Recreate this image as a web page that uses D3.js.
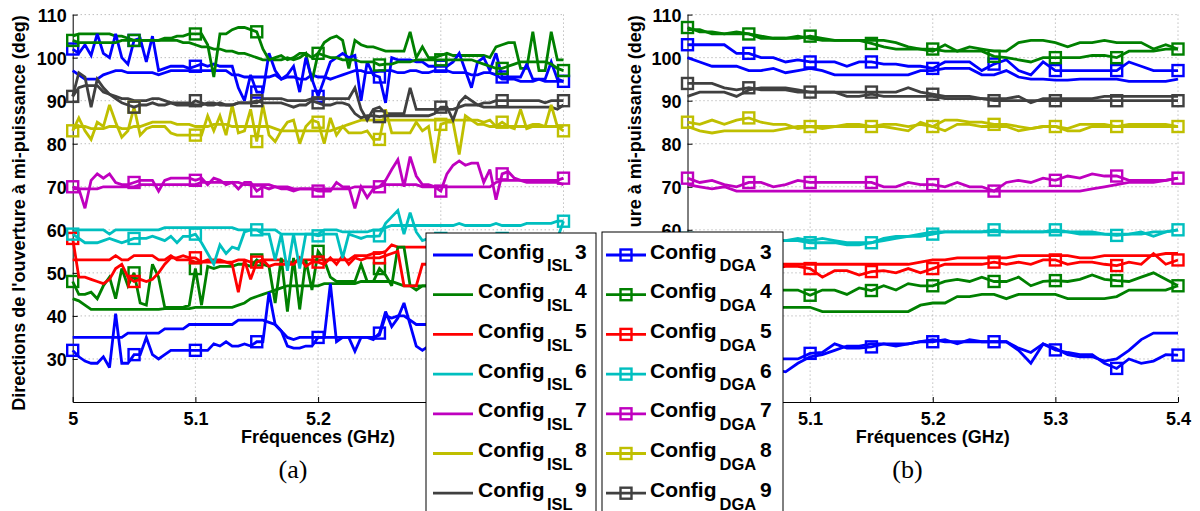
<!DOCTYPE html>
<html><head><meta charset="utf-8">
<script src="https://cdn.jsdelivr.net/npm/d3@7"></script>
<style>html,body{margin:0;padding:0;background:#fff;} svg{display:block;}</style>
</head><body>
<svg id="chart" width="1200" height="511"></svg>
<script>
// ---------- categories / ticks ----------
const CONFIG_IDS = ["3","4","5","6","7","8","9"];
const CONFIG_COLORS = ["#0000ff","#008000","#ff0000","#00bfbf","#bf00bf","#bfbf00","#404040"];
const Y_TICKS = [30,40,50,60,70,80,90,100,110];
const X_TICKS = [5,5.1,5.2,5.3,5.4];
const X_TICK_LABELS = ["5","5.1","5.2","5.3","5.4"];
const Y_LABEL = "Directions de l'ouverture à mi-puissance (deg)";
const Y_LABEL_B_VISIBLE = "ure à mi-puissance (deg)";   // the rest is hidden behind the legend
const X_LABEL = "Fréquences (GHz)";
const F_START = 5.0;
const STEP_A = 0.005;   // GHz between samples, panel (a)
const STEP_B = 0.01;    // GHz between samples, panel (b)
const MARK_EVERY_A = 10, MARK_EVERY_B = 5;

// ---------- panel (a) series (81 samples, 5.000 .. 5.400 GHz) ----------
const A_ISL3_HI = [97,96,95,95,95,96,96.5,97,97,96.5, 96.5,96.5,96.5,96.5,96,96.5,97,97,97,97, 97,97,97,97,97,97,96,96,95.5,95.5, 95.5,95.5,95.5,96,95,95.5,95.5,95,95,96, 95.5,95.5,95,95.5,96,96.5,97,97,96.5,96.5, 97,97,97,96.5,96.5,97,97,96.5,96.5,97, 97,97,96.5,96.5,96.5,96,96,96.5,96.5,96, 95,95,95,94.5,94.5,94.5,95,94.5,94.5,94.5,94.5];
const A_ISL3_LO = [35,35,35,35,35,35,35,35,35,36, 36,36,36,36,36,37,37,37,37,38, 38,38,38,38,38,38,38,39,39,39, 39,39,38.5,38,36.5,35,34.5,35,35,35, 35,35,35,35,35,35,35,35,35,35, 35.5,40,39.5,40,40,39,38,38,38,38, 38,38,38,38,38,38,38,38,38,38, 38,38,38,38,38,38,38,38,38,38,38];
const A_DGA3_HI = [102,101,103,100.5,105.5,101,100,105.5,100,98.5, 104,104.5,99,105,97,97.5,98,98,98,97.5, 98,98.5,98,98.5,98,98,98,93,90,96, 92,92,101,97,95,96,98,92,100,95, 91,95,99,100,101,100,100.5,90,99,96, 95.5,89.5,100,99.5,99.5,99.5,99,99,98,98, 98,98,99,101,97,93,99,100,97,101, 95.5,95.5,95.5,95.5,98.5,95,95,95,99,95,94.5];
const A_DGA3_LO = [32,30.5,29.5,29,29,30.5,28,40.5,29,29, 31,31,35,31,30,31,32,32,32,32, 32,32,32,33.5,33,34,33,33,33.5,33, 34,34,45.5,38,36.5,33,32.5,32.5,33,33, 35,35,47.5,34,35,35,31.8,35,35,34.5, 36,41,37.5,39.5,43,38,33,32,33,33, 33,33,33,33,33,33,33,33,33,33, 33,33,33,33,33,33,33,33,33,33,33];
const A_ISL4_HI = [105,105.5,105.5,105.5,105.5,105.5,105.5,105,105,104.5, 104,104,104,104,104,104,104,104,103.5,103.5, 103,102.5,102.5,102,102,101.5,101.5,101,101,100.5, 100,99.5,99.5,99.5,99.5,100,99.5,100,101,94.5, 101,103.5,104.5,105,104,97.5,104,103,102.5,102.5, 102,101.5,101.5,101.5,101.5,106,100,102.5,100,100, 100.5,101,100.5,100.5,100.5,100.5,100.5,100.5,100,102.5, 103,103.5,103.5,97.5,97.5,106,97,97,106,99.5,99.5];
const A_ISL4_LO = [44,43.5,42.5,41.5,41.5,41.5,41.5,41.5,41.5,41.5, 41.5,41.5,41.5,41.5,41.5,41.7,41.7,41.7,41.7,41.7, 42,42,42,42,42,42,42,42.5,43,44, 44.5,45,45.5,46,46.5,47,47,47,47,47, 47,47.5,47.5,47.5,47.5,47.5,47.5,48,48,48, 48,48,48,47.5,47,47,47,47,47,47, 47,47,47,47,47,47,47,47,47,47, 47,47,47,47,47,47,47,47,47,47,47];
const A_DGA4_HI = [104,103.5,103.5,103.5,103.5,103.5,103.5,103.5,104,104, 104,104,104,104,104,104.5,104.5,105,105,105.5, 105.5,105.5,103,95.5,105.5,105.5,106.5,107,107,106.5, 106,102,99.5,100,100.5,99.5,100,101,101,100, 101,100.5,100,100,99.5,99.5,99.5,99,99,99, 98.3,98.5,98.5,99,99,99,99.5,99.5,99.5,99.5, 99.5,99.5,99.5,99.5,99.5,99.5,99,98.5,98,97.5, 97.5,98,98.5,99,99,99,99,99,98.5,97.5,97];
const A_DGA4_LO = [48,45,45,45.5,44,47,49,44,51,47, 50,43,42.5,52,49,42,42,42,42,42.5, 51,42.5,51.5,51,51.5,51.5,51.5,52,52,51.5, 53,52,51.5,43,53.5,41,53.5,41.5,53,46, 55,53,49,48,48,48,48,52,48,48, 51,49.5,47,56,56,47,46,47,47,47, 47,47,47,47,47,47,47,47,47,47, 47,47,47,47,47,47,47,47,47,47,47];
const A_ISL5 = [53,53,53,53,53,53,53,54,53,53, 54,54,54,54,53,53,54,53,53,53, 52.5,52.5,53,53,53,52.5,52.5,53,53,52.5, 52.5,53,53,53,53,52.5,52.5,53,53,53, 53,53,53,53,53,53,54,54,54,54.5, 54.5,55,56.5,56,56,56,56,56,56,56, 56,56,56,56,56,56,56,56,56,56, 56,56,56,56,56,56,56,56,56,56,56];
const A_DGA5 = [58,49,49,48.5,48,47.5,48.5,51,52,49, 48,48.5,48,48.5,50,52,53.5,53.5,54,53.5, 53.5,52.5,52.5,52.5,52.5,52.5,52,45.5,53,48.5, 52.5,53,51.5,52,52,52,52,53.5,51.5,52.5, 52.5,52,53.5,52,54,52,53.5,53,53.5,53.5, 53.5,54,54.5,55,47,47,47,52,52,52, 52,52,52,52,52,52,52,52,52,52, 52,52,52,52,52,52,52,52,52,52,52];
const A_ISL6 = [59.5,60,60,60,60,60,59,60,60,60, 60,60,60,60,60,60.5,60.5,60.5,60.5,60.5, 60.5,60.5,60.5,60.5,60.5,60.5,60.5,60,60,60, 60,60,60,60,59,59,59,59,59,59, 59,60,60,60,59.5,59.5,59.5,59.5,59.5,60, 60,60.5,61,61,61,61,61,61,61,61, 61,61,61,61.5,61,61,61,61,61,61.5, 61,61,61,61,61.5,61.5,61.5,61.5,61.5,62,62];
const A_DGA6 = [59,58,57,57,57,57.5,58,57.5,57,57.5, 58,58,58,58.5,58,57.5,58.5,57,58.5,58.5, 59,57,54.5,52,56.5,54.5,56,55.5,59.5,60, 60,59,59,53,59,50.5,59,51,59,59, 58.6,59,59,59,53.5,59,58.5,58,58.5,58.5, 58.6,61.5,63,64.5,59,64,59.5,57.5,58,58, 58,58,58,58,58,58,58,58,58,58, 58,58,58,58,58,58,58,58,58,58,62];
const A_ISL7 = [69.5,69.5,69.5,69.5,69.5,70,70,70,70,70, 70,70.5,70.5,70.5,70.5,70.5,70.5,70.5,70.5,70.5, 70.5,71,71,71,71,71,71,71,70.5,70.5, 70.5,70.5,70.5,70,70,70,69.5,69.5,69.5,69.5, 69.5,69.5,69.5,69.5,69.5,69.5,70,70,70,70, 70,70.5,70.5,70.5,70.5,70.5,70.5,70,70,70, 70,70,70,70,70,70,70,70,70,71, 71.5,71.5,71.5,71.5,71,71,71,71,71,71,70.5];
const A_DGA7 = [70,69.5,65,71.5,73,72,73,71,70.5,70.5, 71,71.5,71.5,71.5,69,71.5,72,72,72,72, 71.5,72,70.5,72,71.5,70.5,71,69.5,71,71, 69,70,69.5,70,69.5,69.5,69,69.5,69.5,69.5, 69,69,69,71,70,70,65,70,67.5,69.5, 70,71.5,74,76.3,70,77,72.5,70.5,70.5,70, 69,73,75,76,75,75.5,75.5,71,74,67, 73,73.5,72,71.5,71.5,71.5,71.5,71.5,71.5,71.5,72];
const A_ISL8 = [83.5,84,84,83.5,83.5,83.5,84,84,83.5,83.5, 84,84,84.5,85,85,85,85,84.5,84.5,84.5, 84,84,84,84.5,84.5,84.5,84,84,84,84, 84,84,84,83.5,83,83,83,83,83,83, 83,83,83,83.5,84,84.5,85,85.5,85.5,85.5, 85.5,85.5,85.5,85.5,85.5,85.5,85.5,85.5,85.5,85.5, 85.5,85.5,85.5,85.5,85.5,85.5,84.5,84.5,84,84, 84,84,84,84,84,84.5,84.5,84,84,84,84];
const A_DGA8 = [83,86,83,81,85,84,89,85,81.5,83, 88.5,82,83.5,84,84,84,82.5,82,82,82, 82,82,86.5,83,86.5,82,89,82.5,83,88, 80.5,89,82,80.5,83,85,85.5,80,84,85.5, 85,80,86,82,84,82.5,82.5,82.5,83,81, 81,88,82.5,82.5,82.5,82.5,85,83,84,75.5, 84.5,85,85,77.5,86.5,85.5,85.5,85,85.5,84, 85,84,83.5,88,83.5,84,84,84,89,84,83];
const A_ISL9 = [91,93,93.5,93.5,93.5,92,91.5,91,90.5,90.5, 90,90,90,90.5,90.5,90,89.5,89.5,89.5,89.5, 89,89,89.5,89.5,89,89,89,89.5,89.5,89.5, 89.5,90.5,90.5,90.5,90.5,90,90,90,90,90.5, 90.5,90.5,90.5,90.5,90.5,90.5,93,88,85.5,88, 88.5,87,87,87,87,93,88,88,88,88, 88,88,88,88.5,89,89,89,88.5,88.5,88.5, 88.5,88.5,88.5,88.5,88.5,88.5,88.5,88.5,88.5,88,89];
const A_DGA9 = [91,96.5,95.5,88.5,95,93,91.5,90.5,89.5,89, 88.5,89,89,89.5,89,89,89.5,89,89,89, 90,89.5,89,89,89.5,89,89,89.5,89.5,89.5, 90,89.5,89.5,89.5,89.5,89,88.5,89,89,90, 89.5,89,89,89.5,89.5,89,87,86,86.5,86.5, 86.3,86.5,86.5,86.5,86.5,86.5,86.5,86.5,86.5,87, 88.5,88.5,85.5,89.5,91,90,89,89.5,89.5,90, 90,90,90,90,90,90,90,89.5,90,90,90];

// ---------- panel (b) series (41 samples, 5.00 .. 5.40 GHz) ----------
const B_ISL3_HI = [100,99,98,98,98,97,97,97.5,96.5,97, 97.5,97,96,96,96,96,96,96,96,97, 97,97.5,97.5,97.5,96,96,97,95.5,95,95, 94.8,94.8,95,95,95,95,94.5,94.5,94.5,94.5, 95];
const B_ISL3_LO = [27.5,28,28.5,28.5,28.5,28.5,28,27.5,27,29, 30.5,31,32,33,33,33.5,33.5,33.5,33.5,34, 34.5,34,34,34,34,34,34,32,29,33.5, 32.5,31,30.5,30.5,29.5,30,32,34.5,36,36, 36];
const B_DGA3_HI = [103,103,103,103,101,101,100,100,99,99.5, 99,99,99,98,99,99,98.5,98.5,98,98, 97.5,99,99,99,97,98.5,99.5,97,96,99, 97,97,97,97,97,97,99,98,97,97, 97];
const B_DGA3_LO = [30,30,29.5,29.5,29.5,29.5,30,30,30,30, 31.3,31.5,33.5,32.5,32.5,32.8,33.5,33,33.5,34, 34,34.5,33.5,34.5,34,34,34,32.5,31.5,33.5, 32.1,31.5,31,31,29,27.8,30,29,29.5,31, 30.9];
const B_ISL4_HI = [106.5,106.5,105.5,105.5,106,105.5,105,104.5,104.5,105, 104.5,104,104,104,104,104,104,103.5,102.5,102, 101.5,103,101.5,102.5,102,101.5,101.5,103.5,104,104, 103.5,102.5,103.5,103.5,104,103.5,103.5,103.5,102,103, 102];
const B_ISL4_LO = [42.5,42.5,42.5,42.5,42,42,42,42,42,42, 42,41,41,41,41,41,41,41,41,42.5, 43,43,44.5,44.5,45,45,44,45,45,45, 45,44,44,44,44,44.5,46,46,46,46, 47];
const B_DGA4_HI = [107,106,106,105.5,105.5,105.5,104.5,104.5,104.5,104.5, 105,104.5,104,104,104,103.3,102.5,102,102,102, 102,101.5,101.5,101.5,101.5,100.3,100,99.5,99,100, 100,100,100,100.5,100.5,100,101.5,101.5,101.5,102, 102];
const B_DGA4_LO = [45,45,45.5,45.5,45,45.5,45.5,46,46,46, 44.8,46,46,45,46.5,45.9,47,46,47.5,47, 47,48,48.5,48,49,48,48,49,47,48, 48.2,48,48.5,49.5,48.5,48.2,48,49,50,48.5, 47];
const B_ISL5 = [52,52,52,52,52,52,52,52,52,52, 52,52,52,52,52,52,52,52,52,52.5, 53,53,53.5,53.5,53.5,53.5,53.5,54,54,54, 54,54,53.5,53.5,54,54,54,54,54,54.5, 54.5];
const B_DGA5 = [52,52,51.5,51.5,51,51,51,51,51.5,51.5, 51,49,50.5,50.5,49.5,50.3,50.5,50,51,50, 51,52,52,52,52,52.5,52,52.5,52,53, 53,52,52.5,52.5,52,51.7,52.5,52,54.5,52, 53];
const B_ISL6 = [58.5,58.5,58.5,58.5,58,58,57.5,57.5,57.5,58, 57.5,58,57.5,57,57,57,58,58.5,58.5,59, 59.5,59.5,59.5,59.5,59.5,59.5,59.5,59.5,59.5,59.5, 59.5,59.5,59,59,59,59,59,59,59.5,59.5, 60];
const B_DGA6 = [58,58,58,57.5,57.5,57.5,57.5,57.5,57.5,57.5, 57,57,57,56.5,56.5,57,57.5,58,58.5,58.5, 59,59.5,59.5,59.5,59.5,60,59.5,59.5,59.5,59.5, 60,59.5,59.5,59.5,59,58.7,59,59.5,58.5,59.5, 60];
const B_ISL7 = [70.5,70,69.5,70,69,69,69,69,69,69, 69,69,69,69,69,69,69,69,69,69, 69,69,69,69,69,69,69,69,69,69, 69,69,69,69.5,70,70.5,71,71,71,71.5, 72];
const B_DGA7 = [72,71,71.5,70.5,70,71,71,70,70.5,71.5, 71,71,71,71,71,71,70,70,71,70.5, 70.5,70,71,70,70,69,71,71.5,71,72, 71.5,72.5,72,73,72.5,72.5,71.5,71.5,71.5,71.5, 72];
const B_ISL8 = [84,83,82.5,83,83,83,83,83,83.5,84, 84,84,84,84,84,84,84,83.5,83,85, 84,83,84.5,84.5,84,84,84,83,83.5,84, 84,83,83,84,84,84,84,84,84,84, 84];
const B_DGA8 = [85,84.5,85.5,84.5,85.5,86,85,84.5,84.5,83.5, 84,83.5,84,84.5,84.5,84,84.5,84.5,84,84.5, 84,85.5,85.5,85,85,84.5,84.5,84,83.5,84, 84,83.5,84.5,84.5,84.5,84,84.5,84.5,84.5,84.5, 84];
const B_ISL9 = [91,92,92,92,91,92.5,93,93,93,92.5, 92,92,92,91,91,91.5,91,91,91,91, 91,90.5,90.5,90.5,90.5,90.5,90.5,91,89.5,90.5, 90.5,90.5,90.5,90.5,91,91,91,91,91,91, 91];
const B_DGA9 = [94,94,94,93,92.5,93,92.5,92.5,92.5,92, 92,92,92,92,92,92,92,92,93,92, 91.5,91,91,91,90.5,90,90,90,90,90, 90,90,90,90,90,90,90,90,90,90, 90];

// ---------- assembly ----------
const PANEL_A = {
  isl: [[A_ISL3_HI,A_ISL3_LO],[A_ISL4_HI,A_ISL4_LO],[A_ISL5],[A_ISL6],[A_ISL7],[A_ISL8],[A_ISL9]],
  dga: [[A_DGA3_HI,A_DGA3_LO],[A_DGA4_HI,A_DGA4_LO],[A_DGA5],[A_DGA6],[A_DGA7],[A_DGA8],[A_DGA9]],
  step: STEP_A, markEvery: MARK_EVERY_A,
  x0: 72.7, x1: 563.5, ylabX: 25, capX: 293, caption: "(a)", ylabText: Y_LABEL, full: true
};
const PANEL_B = {
  isl: [[B_ISL3_HI,B_ISL3_LO],[B_ISL4_HI,B_ISL4_LO],[B_ISL5],[B_ISL6],[B_ISL7],[B_ISL8],[B_ISL9]],
  dga: [[B_DGA3_HI,B_DGA3_LO],[B_DGA4_HI,B_DGA4_LO],[B_DGA5],[B_DGA6],[B_DGA7],[B_DGA8],[B_DGA9]],
  step: STEP_B, markEvery: MARK_EVERY_B,
  x0: 687.5, x1: 1178, ylabX: 640.5, capX: 907.5, caption: "(b)", ylabText: Y_LABEL_B_VISIBLE, full: false
};
const LEGEND_BOXES = [{x:426,y:233,w:170},{x:602,y:232,w:181}];

const svg = d3.select("#chart");
const FONT = "'Liberation Sans', Arial, Helvetica, sans-serif";
const Y_TOP = 14.6, Y_BOT = 402, YLAB_CENTER = 213;
const y = d3.scaleLinear().domain([20,110]).range([Y_BOT, Y_TOP]);
const LW = 2.8, MS = 11;
let fullLabelLen = 0;

function drawPanel(P) {
  const x = d3.scaleLinear().domain([5,5.4]).range([P.x0, P.x1]);
  const g = svg.append("g");
  // grid
  g.append("g").selectAll("line").data(Y_TICKS).join("line")
    .attr("x1", P.x0).attr("x2", P.x1).attr("y1", d=>y(d)).attr("y2", d=>y(d))
    .attr("stroke","#a0a0a0").attr("stroke-width",1).attr("stroke-dasharray","1,3");
  g.append("g").selectAll("line").data(X_TICKS.slice(1)).join("line")
    .attr("x1", d=>x(d)).attr("x2", d=>x(d)).attr("y1", Y_TOP).attr("y2", Y_BOT)
    .attr("stroke","#a0a0a0").attr("stroke-width",1).attr("stroke-dasharray","1,3");
  // axes
  const ax = g.append("g").attr("class","axis").attr("transform",`translate(${P.x0},0)`)
    .call(d3.axisLeft(y).tickValues(Y_TICKS).tickSizeInner(-5).tickSizeOuter(0).tickPadding(6));
  const bx = g.append("g").attr("class","axis").attr("transform",`translate(0,${Y_BOT})`)
    .call(d3.axisBottom(x).tickValues(X_TICKS).tickFormat((d,i)=>X_TICK_LABELS[i]).tickSizeInner(-5).tickSizeOuter(0).tickPadding(10));
  [ax,bx].forEach(a=>{
    a.select(".domain").attr("stroke","#000").attr("stroke-width",1);
    a.selectAll(".tick line").attr("stroke","#000");
    a.selectAll("text").attr("font-family",FONT).attr("font-weight","bold").attr("font-size",18).attr("fill","#000");
  });
  ax.selectAll("text").attr("dy","0.36em");
  bx.selectAll("text").attr("dy","0.72em");
  // labels
  g.append("text").attr("x",(P.x0+P.x1)/2).attr("y",443).attr("text-anchor","middle")
    .attr("font-family",FONT).attr("font-weight","bold").attr("font-size",18).text(X_LABEL);
  const yl = g.append("text").attr("font-family",FONT).attr("font-weight","bold").attr("font-size",18).text(P.ylabText);
  if (P.full) {
    yl.attr("transform",`translate(${P.ylabX},${YLAB_CENTER}) rotate(-90)`).attr("text-anchor","middle");
    fullLabelLen = yl.node().getComputedTextLength();
  } else {
    yl.attr("transform",`translate(${P.ylabX},${YLAB_CENTER - fullLabelLen/2}) rotate(-90)`).attr("text-anchor","end");
  }
  g.append("text").attr("x",P.capX).attr("y",478).attr("text-anchor","middle")
    .attr("font-family","'Liberation Serif','Times New Roman',serif").attr("font-size",26).text(P.caption);
  // series
  const line = d3.line().x((d,i)=>x(F_START + P.step*i)).y(d=>y(d));
  const lg = g.append("g").attr("fill","none").attr("stroke-width",LW).attr("stroke-linejoin","miter").attr("stroke-miterlimit",3);
  P.isl.forEach((arrs,c)=>arrs.forEach(arr=>{
    lg.append("path").attr("d",line(arr)).attr("stroke",CONFIG_COLORS[c]);
  }));
  P.dga.forEach((arrs,c)=>arrs.forEach(arr=>{
    lg.append("path").attr("d",line(arr)).attr("stroke",CONFIG_COLORS[c]);
    const pts = arr.map((v,i)=>({f:F_START+P.step*i,v,i})).filter(p=>p.i%P.markEvery===0);
    lg.selectAll(null).data(pts).join("rect")
      .attr("x",p=>x(p.f)-MS/2).attr("y",p=>y(p.v)-MS/2).attr("width",MS).attr("height",MS)
      .attr("stroke",CONFIG_COLORS[c]).attr("stroke-width",2.4).attr("fill","none");
  }));
}
drawPanel(PANEL_A);
drawPanel(PANEL_B);

// tick labels entirely covered by a legend box are not shown in the figure
svg.selectAll(".axis text").each(function(){
  const b = this.getBoundingClientRect();
  const covered = LEGEND_BOXES.some(L => b.left >= L.x && b.right <= L.x + L.w && b.top >= L.y);
  if (covered) d3.select(this).remove();
});

// ---------- legends ----------
function legend(L, sub, subX, digitX, textX, sample0, sample1, withMarker) {
  const g = svg.append("g");
  g.append("rect").attr("x",L.x).attr("y",L.y).attr("width",L.w).attr("height",320)
    .attr("fill","#fff").attr("stroke","#000").attr("stroke-width",1);
  CONFIG_IDS.forEach((id,k)=>{
    const ly = 255 + 39.7*k;
    g.append("line").attr("x1",sample0).attr("x2",sample1).attr("y1",ly).attr("y2",ly)
      .attr("stroke",CONFIG_COLORS[k]).attr("stroke-width",LW);
    if (withMarker) {
      const cx = (sample0+sample1)/2;
      g.append("rect").attr("x",cx-MS/2).attr("y",ly-MS/2).attr("width",MS).attr("height",MS)
        .attr("fill","none").attr("stroke",CONFIG_COLORS[k]).attr("stroke-width",2.4);
    }
    const t = g.append("text").attr("font-family",FONT).attr("font-weight","bold").attr("fill","#000");
    t.append("tspan").attr("x",textX).attr("y",ly+3.5).attr("font-size",21).text("Config");
    t.append("tspan").attr("x",subX).attr("y",ly+16.3).attr("font-size",16.5).text(sub);
    t.append("tspan").attr("x",digitX).attr("y",ly+3.5).attr("font-size",21).text(id);
  });
}
legend(LEGEND_BOXES[0], "ISL", 547, 575, 478, 433, 473, false);
legend(LEGEND_BOXES[1], "DGA", 719.5, 760, 650, 606, 646, true);
</script></body></html>
